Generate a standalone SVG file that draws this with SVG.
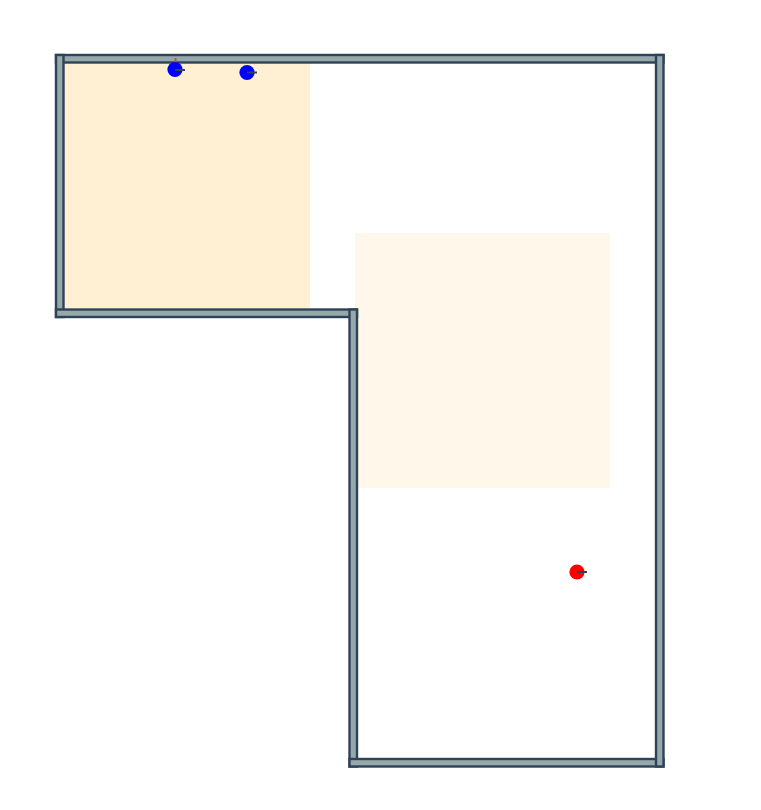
<svg xmlns="http://www.w3.org/2000/svg" width="761" height="810" viewBox="0 0 761 810">
<style>
.wall{fill:#95a8aa;stroke:#2f4358;stroke-width:2.4}
.dir{stroke:#2f4358;stroke-width:2;fill:none}
.blue{fill:#0000ff}
.red{fill:#ff0000}
</style>
<rect width="761" height="810" fill="#ffffff"/>
<rect id="zone-a" x="64" y="63" width="246" height="245" fill="#ffefd3"/>
<rect id="zone-b" x="355" y="233" width="255" height="255" fill="#fff7ea"/>
<g id="walls">
<rect class="wall" x="56" y="55" width="607.500" height="7.500"/>
<rect class="wall" x="56" y="55" width="7.500" height="262"/>
<rect class="wall" x="56" y="309.500" width="301" height="7.500"/>
<rect class="wall" x="349.500" y="309.500" width="7.500" height="457"/>
<rect class="wall" x="349.500" y="759" width="314" height="7.500"/>
<rect class="wall" x="656" y="55" width="7.500" height="711.500"/>
</g>
<g id="points">
<g id="p1"><path d="M175.500 58V65" stroke="#c0504d" stroke-width="2" fill="none"/><circle class="blue" cx="175" cy="69.500" r="7.600"/><path class="dir" d="M175 70H185"/></g>
<g id="p2"><circle class="blue" cx="247" cy="72.500" r="7.600"/><path class="dir" d="M247 72.500H257"/></g>
<g id="p3"><circle class="red" cx="577" cy="572" r="7.600"/><path class="dir" d="M577 572H587"/></g>
</g>
</svg>
